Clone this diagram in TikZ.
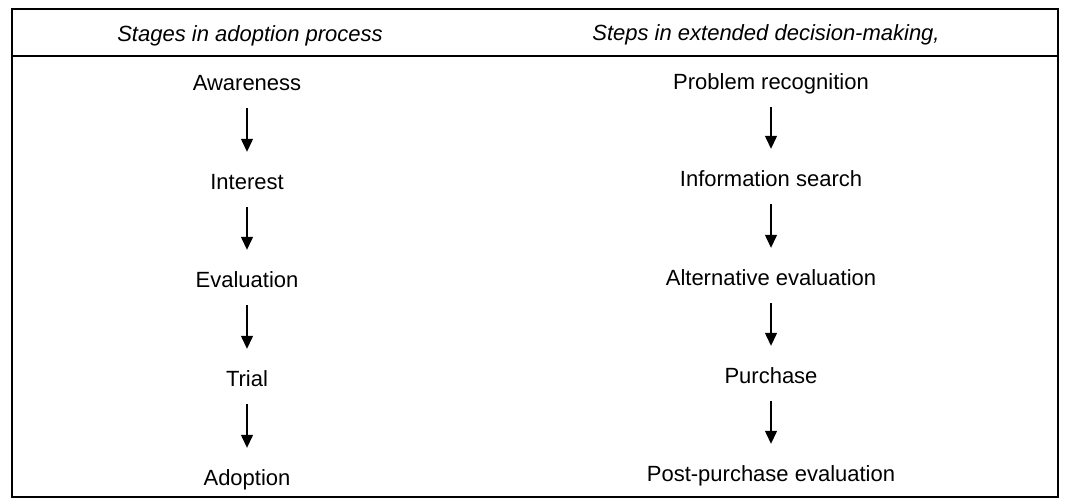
\documentclass[tikz,border=0pt]{standalone}
\usepackage{fontspec}
\setmainfont{Liberation Sans}
\usetikzlibrary{arrows.meta}
\begin{document}
\begin{tikzpicture}[x=1pt,y=-1pt,
  frameline/.style={line width=1.8pt},
  stage/.style={inner sep=0pt, text height=16pt, text depth=0pt,
    font=\fontsize{22}{26}\selectfont},
  colhead/.style={stage, font=\fontsize{22}{26}\selectfont\itshape},
  flow/.style={line width=1.3pt, -{Triangle[length=13pt,width=12pt]},
    shorten <=18pt, shorten >=21pt}]
\useasboundingbox (0,0) rectangle (1065,498);

% table frame and header rule
\draw[frameline] (12,9) rectangle (1058,497);
\draw[line width=2.2pt] (12,56) -- (1058,56);

% column headings
\node[colhead] (hl) at (250,33) {Stages in adoption process};
\node[colhead] (hr) at (766,32) {Steps in extended decision-making,};

% adoption process
\node[stage] (a1) at (247,82)  {Awareness};
\node[stage] (a2) at (247,181) {Interest};
\node[stage] (a3) at (247,279) {Evaluation};
\node[stage] (a4) at (247,378) {Trial};
\node[stage] (a5) at (247,477) {Adoption};

% extended decision-making
\node[stage] (d1) at (771,81)  {Problem recognition};
\node[stage] (d2) at (771,178) {Information search};
\node[stage] (d3) at (771,277) {Alternative evaluation};
\node[stage] (d4) at (771,375) {Purchase};
\node[stage] (d5) at (771,473) {Post-purchase evaluation};

\foreach \s/\t in {a1/a2,a2/a3,a3/a4,a4/a5,d1/d2,d2/d3,d3/d4,d4/d5}
  \draw[flow] (\s) -- (\t);
\end{tikzpicture}
\end{document}
